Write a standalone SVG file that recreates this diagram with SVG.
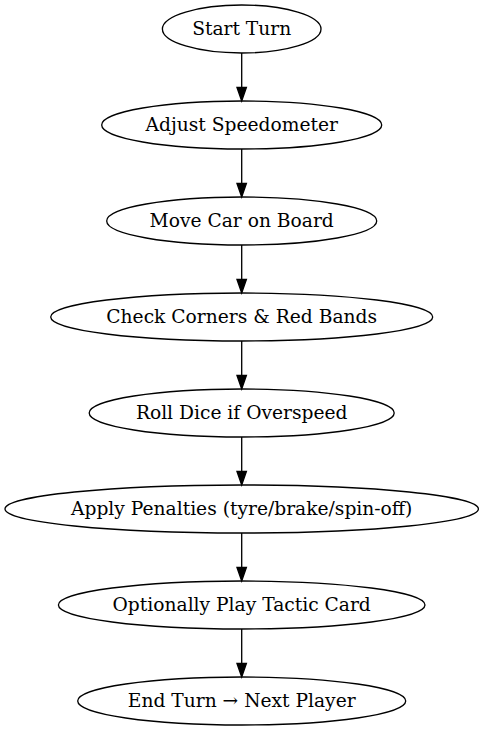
<svg xmlns="http://www.w3.org/2000/svg" width="484" height="731" viewBox="0 0 484 731">
<style>
.n ellipse{fill:none;stroke:#000;stroke-width:1.33}
.n text{font-family:"DejaVu Serif",serif;font-size:18.67px;text-anchor:middle;fill:#000}
#edges line{stroke:#000;stroke-width:1.33}
#edges polygon{fill:#000;stroke:#000;stroke-width:1.33}
</style>
<rect width="484" height="731" fill="#fff"/>
<g id="edges">
<line x1="241.7" y1="53" x2="241.7" y2="87.5"/><polygon points="237,87.5 241.7,101 246.4,87.5"/>
<line x1="241.7" y1="149" x2="241.7" y2="183.5"/><polygon points="237,183.5 241.7,197 246.4,183.5"/>
<line x1="241.7" y1="245" x2="241.7" y2="279.5"/><polygon points="237,279.5 241.7,293 246.4,279.5"/>
<line x1="241.7" y1="341" x2="241.7" y2="375.5"/><polygon points="237,375.5 241.7,389 246.4,375.5"/>
<line x1="241.7" y1="437" x2="241.7" y2="471.5"/><polygon points="237,471.5 241.7,485 246.4,471.5"/>
<line x1="241.7" y1="533" x2="241.7" y2="567.5"/><polygon points="237,567.5 241.7,581 246.4,567.5"/>
<line x1="241.7" y1="629" x2="241.7" y2="663.5"/><polygon points="237,663.5 241.7,677 246.4,663.5"/>
</g>
<g id="n1" class="n"><ellipse cx="241.7" cy="29" rx="79.3" ry="24"/><text x="241.7" y="35">Start Turn</text></g>
<g id="n2" class="n"><ellipse cx="241.7" cy="125" rx="140" ry="24"/><text x="241.7" y="131">Adjust Speedometer</text></g>
<g id="n3" class="n"><ellipse cx="241.7" cy="221" rx="135" ry="24"/><text x="241.7" y="227">Move Car on Board</text></g>
<g id="n4" class="n"><ellipse cx="241.7" cy="317" rx="191" ry="24"/><text x="241.7" y="323">Check Corners &amp; Red Bands</text></g>
<g id="n5" class="n"><ellipse cx="241.7" cy="413" rx="152.5" ry="24"/><text x="241.7" y="419">Roll Dice if Overspeed</text></g>
<g id="n6" class="n"><ellipse cx="241.7" cy="509" rx="236.7" ry="24"/><text x="241.7" y="515">Apply Penalties (tyre/brake/spin-off)</text></g>
<g id="n7" class="n"><ellipse cx="241.7" cy="605" rx="183.3" ry="24"/><text x="241.7" y="611">Optionally Play Tactic Card</text></g>
<g id="n8" class="n"><ellipse cx="241.7" cy="701" rx="164" ry="24"/><text x="241.7" y="707">End Turn → Next Player</text></g>
</svg>
